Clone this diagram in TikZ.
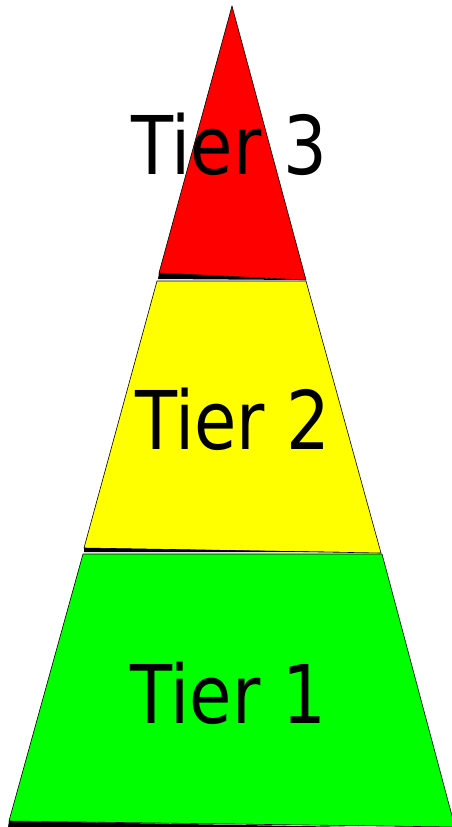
\documentclass[tikz,border=0pt]{standalone}
\usepackage{fontspec}
\setmainfont{DejaVu Sans}[FakeStretch=0.85]
\usetikzlibrary{positioning}
\definecolor{tierred}{RGB}{255,0,0}
\definecolor{tieryellow}{RGB}{255,255,0}
\definecolor{tiergreen}{RGB}{0,255,0}

\begin{document}
\begin{tikzpicture}[
  x=1pt, y=-1pt,
  tier/.style={draw=black, line width=0.6pt, line join=round},
  seam/.style={fill=black},
  lbl/.style={font=\fontsize{81}{81}\selectfont, anchor=base, inner sep=0pt}
]
\useasboundingbox (0,0) rectangle (452,827);

% Tier 3 (top)
\fill[tier, fill=tierred] (232,6) -- (306,280) -- (159,273) -- cycle;
\fill[seam] (159,273) -- (300,280) -- (158,279) -- cycle;

% Tier 2 (middle)
\fill[tier, fill=tieryellow] (157,281) -- (306,281) -- (381,553) -- (84,548) -- cycle;
\fill[seam] (84,548) -- (340,552) -- (84,552) -- cycle;

% Tier 1 (bottom)
\fill[tier, fill=tiergreen] (83,554) -- (382,554) -- (455,827) -- (9,821) -- cycle;
\fill[seam] (9,821) -- (360,827) -- (8,827) -- cycle;

% labels
\node[lbl] (t3) at (229.5,174) {Tier 3};
\node[lbl] (t2) at (233,449) {Tier 2};
\node[lbl] (t1) at (228.5,723) {Tier 1};
\end{tikzpicture}
\end{document}
